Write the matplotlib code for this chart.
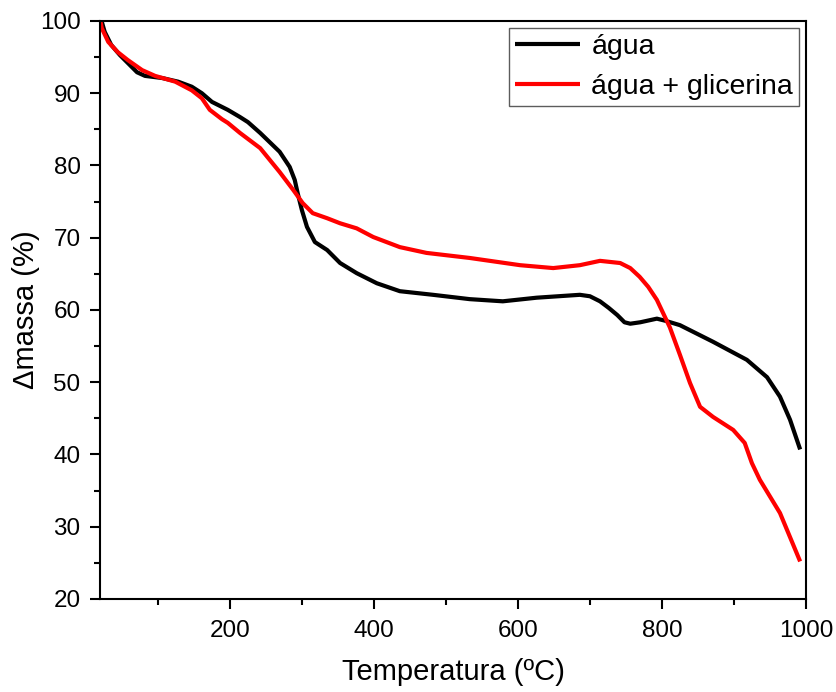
import matplotlib
matplotlib.use('Agg')
from matplotlib import pyplot as plt
from matplotlib.ticker import MultipleLocator

plt.rcParams['font.family'] = ['Liberation Sans', 'DejaVu Sans']

# água
x_agua = [20, 22, 26, 35, 47, 58, 71, 82, 106, 128, 147, 161, 175, 197, 214, 225, 242, 269,
          283, 290, 294, 300, 307, 318, 335, 353, 376, 404, 436, 482, 533, 579, 626, 686,
          700, 714, 726, 738, 748, 756, 770, 793, 805, 825, 871, 918, 946, 964, 978, 992]
y_agua = [100, 99.9, 98.5, 96.7, 95.3, 94.2, 92.9, 92.4, 92.1, 91.6, 90.9, 90.0, 88.8, 87.7,
          86.7, 86.0, 84.5, 81.9, 79.8, 78.0, 76.2, 73.8, 71.5, 69.4, 68.3, 66.5, 65.1, 63.7,
          62.6, 62.1, 61.5, 61.2, 61.7, 62.1, 61.9, 61.2, 60.3, 59.3, 58.3, 58.1, 58.3, 58.8,
          58.5, 57.9, 55.6, 53.1, 50.7, 48.0, 44.8, 40.7]

# água + glicerina
x_glic = [20, 22, 31, 44, 58, 78, 96, 124, 147, 161, 172, 189, 197, 214, 242, 269, 288, 301,
          315, 335, 353, 376, 399, 436, 473, 533, 603, 649, 686, 714, 742, 756, 769, 781, 793,
          811, 825, 839, 853, 871, 899, 915, 925, 936, 964, 992]
y_glic = [100, 99.0, 97.1, 95.7, 94.6, 93.2, 92.4, 91.6, 90.4, 89.3, 87.7, 86.4, 85.9, 84.5,
          82.4, 79.1, 76.6, 74.8, 73.4, 72.7, 72.0, 71.3, 70.1, 68.7, 67.9, 67.2, 66.2, 65.8,
          66.2, 66.8, 66.5, 65.8, 64.6, 63.2, 61.4, 57.6, 53.8, 49.9, 46.6, 45.2, 43.4, 41.6,
          38.8, 36.5, 31.9, 25.2]

fig = plt.figure(figsize=(8.36, 6.92), dpi=100)
ax = fig.add_axes([0.1196, 0.1344, 0.8444, 0.8353])

ax.plot(x_agua, y_agua, color='black', lw=3, label='água',
        solid_joinstyle='round', solid_capstyle='butt')
ax.plot(x_glic, y_glic, color='#ff0000', lw=3, label='água + glicerina',
        solid_joinstyle='round', solid_capstyle='butt')

ax.set_xlim(19.5, 1000)
ax.set_ylim(20, 100)
ax.xaxis.set_major_locator(MultipleLocator(200))
ax.xaxis.set_minor_locator(MultipleLocator(100))
ax.yaxis.set_major_locator(MultipleLocator(10))
ax.yaxis.set_minor_locator(MultipleLocator(5))
ax.tick_params(which='both', direction='out', top=False, right=False, width=1.5, labelsize=17.5)
ax.tick_params(which='major', length=7)
ax.tick_params(which='minor', length=4)
ax.tick_params(axis='x', which='major', pad=8)
ax.tick_params(axis='y', which='major', pad=7)
for s in ax.spines.values():
    s.set_linewidth(1.5)

ax.set_xlabel('Temperatura (ºC)', fontsize=21, labelpad=12)
ax.set_ylabel('Δmassa (%)', fontsize=21, labelpad=0)

leg = ax.legend(loc='upper right', bbox_to_anchor=(0.99, 0.988), fontsize=20.5, frameon=True,
                fancybox=False, handlelength=2.3, handletextpad=0.4, borderpad=0.2,
                labelspacing=0.5, borderaxespad=0)
leg.get_frame().set_edgecolor('#333333')
leg.get_frame().set_linewidth(1)

plt.savefig('out.png', dpi=100)
